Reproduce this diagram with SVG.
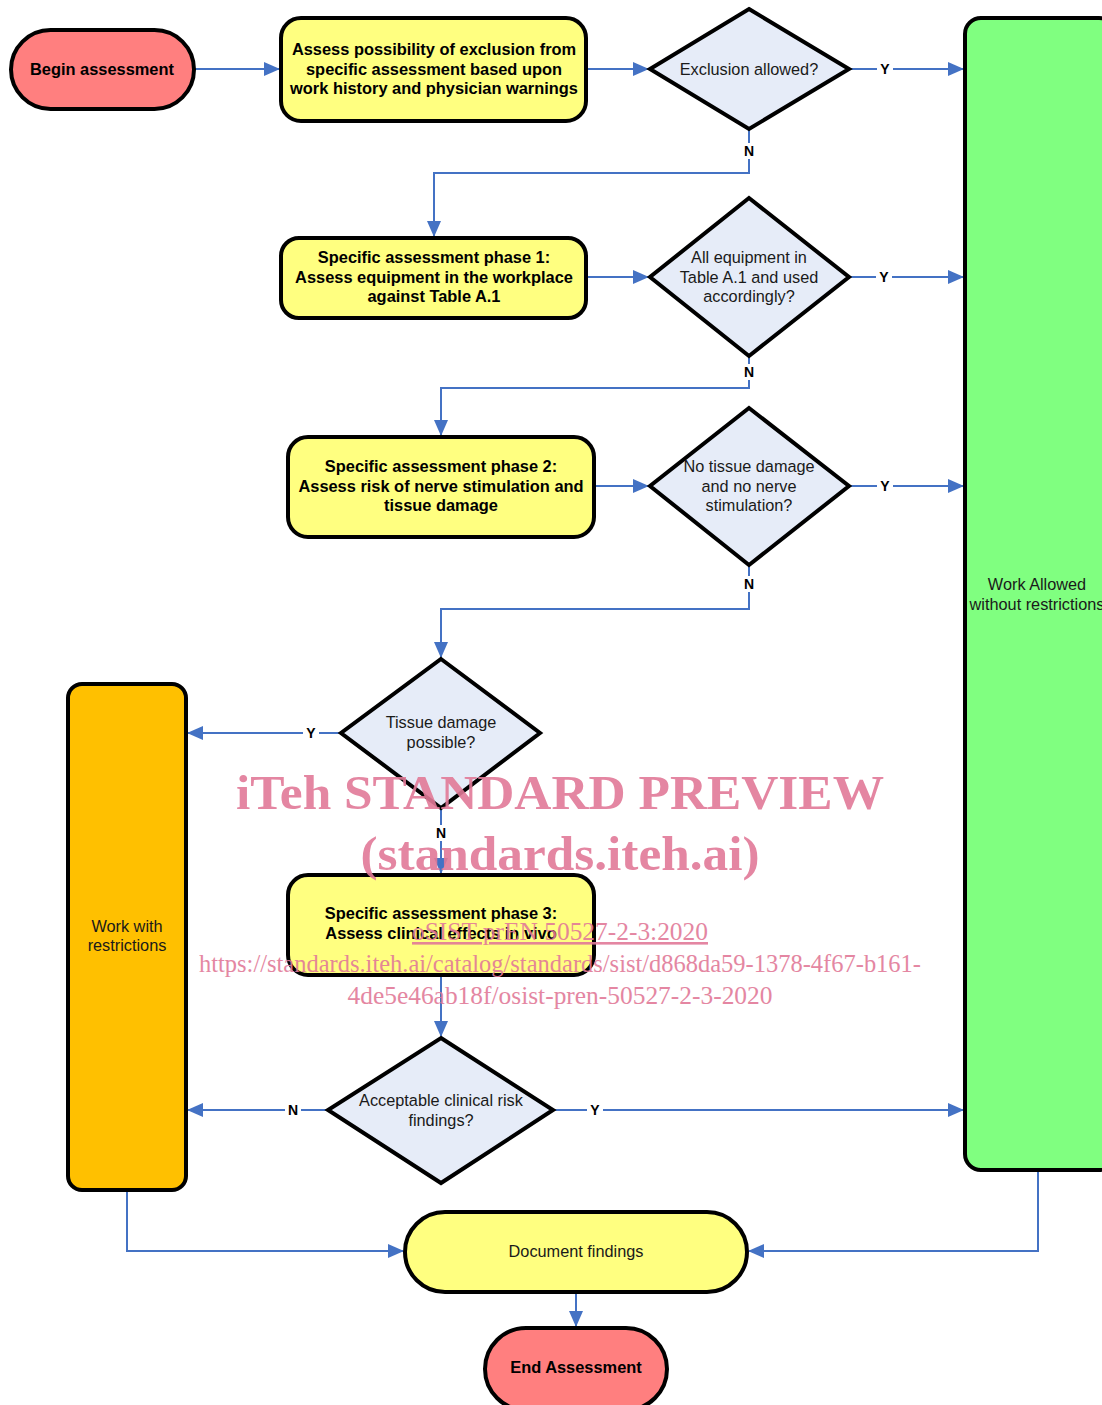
<svg xmlns="http://www.w3.org/2000/svg" width="1102" height="1405" viewBox="0 0 1102 1405">
<defs>
<marker id="arr" markerUnits="userSpaceOnUse" markerWidth="16" markerHeight="14" refX="15" refY="7" orient="auto">
<path d="M0,0 L16,7 L0,14 Z" fill="#4472C4"/>
</marker>
<style>
.term{fill:#FF7F7F;stroke:#000;stroke-width:4}
.proc{fill:#FFFF80;stroke:#000;stroke-width:4}
.dec{fill:#E6ECF8;stroke:#000;stroke-width:4}
.green{fill:#80FF80;stroke:#000;stroke-width:4}
.orange{fill:#FFC000;stroke:#000;stroke-width:4}
.b{font-family:"Liberation Sans",Arial,sans-serif;font-weight:bold;font-size:16.4px;fill:#000;text-anchor:middle}
.r{font-family:"Liberation Sans",Arial,sans-serif;font-size:16.3px;fill:#1a1a1a;text-anchor:middle}
.lbl{font-family:"Liberation Sans",Arial,sans-serif;font-weight:bold;font-size:14px;fill:#000;text-anchor:middle}
.con{fill:none;stroke:#4472C4;stroke-width:2}
.wm{font-family:"Liberation Serif","Times New Roman",serif;fill:#E27A98;text-anchor:middle;opacity:0.9}
</style>
</defs>
<rect width="1102" height="1405" fill="#fff"/>

<g id="connectors">
<path class="con" d="M194,69 L279,69" marker-end="url(#arr)"/>
<path class="con" d="M586,69 L648,69" marker-end="url(#arr)"/>
<path class="con" d="M849,69 L963,69" marker-end="url(#arr)"/>
<path class="con" d="M749,129 L749,173 L434,173 L434,236" marker-end="url(#arr)"/>
<path class="con" d="M586,277 L648,277" marker-end="url(#arr)"/>
<path class="con" d="M849,277 L963,277" marker-end="url(#arr)"/>
<path class="con" d="M749,356 L749,388 L441,388 L441,435" marker-end="url(#arr)"/>
<path class="con" d="M594,486 L648,486" marker-end="url(#arr)"/>
<path class="con" d="M849,486 L963,486" marker-end="url(#arr)"/>
<path class="con" d="M749,565 L749,609 L441,609 L441,657" marker-end="url(#arr)"/>
<path class="con" d="M341,733 L188,733" marker-end="url(#arr)"/>
<path class="con" d="M441,808 L441,873" marker-end="url(#arr)"/>
<path class="con" d="M441,975 L441,1036" marker-end="url(#arr)"/>
<path class="con" d="M328,1110 L188,1110" marker-end="url(#arr)"/>
<path class="con" d="M553,1110 L963,1110" marker-end="url(#arr)"/>
<path class="con" d="M127,1190 L127,1251 L403,1251" marker-end="url(#arr)"/>
<path class="con" d="M1038,1170 L1038,1251 L749,1251" marker-end="url(#arr)"/>
<path class="con" d="M576,1292 L576,1326" marker-end="url(#arr)"/>
<g>
<rect x="877" y="61" width="16" height="16" fill="#fff"/><text class="lbl" x="885" y="74">Y</text>
<rect x="741" y="143" width="16" height="16" fill="#fff"/><text class="lbl" x="749" y="156">N</text>
<rect x="876" y="269" width="16" height="16" fill="#fff"/><text class="lbl" x="884" y="282">Y</text>
<rect x="741" y="364" width="16" height="16" fill="#fff"/><text class="lbl" x="749" y="377">N</text>
<rect x="877" y="478" width="16" height="16" fill="#fff"/><text class="lbl" x="885" y="491">Y</text>
<rect x="741" y="576" width="16" height="16" fill="#fff"/><text class="lbl" x="749" y="589">N</text>
<rect x="303" y="725" width="16" height="16" fill="#fff"/><text class="lbl" x="311" y="738">Y</text>
<rect x="433" y="825" width="16" height="16" fill="#fff"/><text class="lbl" x="441" y="838">N</text>
<rect x="285" y="1102" width="16" height="16" fill="#fff"/><text class="lbl" x="293" y="1115">N</text>
<rect x="587" y="1102" width="16" height="16" fill="#fff"/><text class="lbl" x="595" y="1115">Y</text>
</g>
</g>

<g id="begin">
<rect class="term" x="11" y="30" width="183" height="79" rx="39.5"/>
<text class="b" x="102" y="75">Begin assessment</text>
</g>
<g id="assess-exclusion">
<rect class="proc" x="281" y="18" width="305" height="103" rx="20"/>
<text class="b" x="434" y="55">Assess possibility of exclusion from</text>
<text class="b" x="434" y="75">specific assessment based upon</text>
<text class="b" x="434" y="94">work history and physician warnings</text>
</g>
<g id="exclusion-allowed">
<polygon class="dec" points="749,9 849,69 749,129 650,69"/>
<text class="r" x="749" y="75">Exclusion allowed?</text>
</g>
<g id="phase1">
<rect class="proc" x="281" y="238" width="305" height="80" rx="18"/>
<text class="b" x="434" y="263">Specific assessment phase 1:</text>
<text class="b" x="434" y="283">Assess equipment in the workplace</text>
<text class="b" x="434" y="302">against Table A.1</text>
</g>
<g id="equipment-decision">
<polygon class="dec" points="749,198 849,277 749,356 650,277"/>
<text class="r" x="749" y="263">All equipment in</text>
<text class="r" x="749" y="283">Table A.1 and used</text>
<text class="r" x="749" y="302">accordingly?</text>
</g>
<g id="phase2">
<rect class="proc" x="288" y="437" width="306" height="100" rx="20"/>
<text class="b" x="441" y="472">Specific assessment phase 2:</text>
<text class="b" x="441" y="492">Assess risk of nerve stimulation and</text>
<text class="b" x="441" y="511">tissue damage</text>
</g>
<g id="no-damage-decision">
<polygon class="dec" points="749,408 849,486 749,565 650,486"/>
<text class="r" x="749" y="472">No tissue damage</text>
<text class="r" x="749" y="492">and no nerve</text>
<text class="r" x="749" y="511">stimulation?</text>
</g>
<g id="tissue-damage-decision">
<polygon class="dec" points="441,659 540,733 441,808 341,733"/>
<text class="r" x="441" y="728">Tissue damage</text>
<text class="r" x="441" y="748">possible?</text>
</g>
<g id="work-with-restrictions">
<rect class="orange" x="68" y="684" width="118" height="506" rx="14"/>
<text class="r" x="127" y="932">Work with</text>
<text class="r" x="127" y="951">restrictions</text>
</g>
<g id="phase3">
<rect class="proc" x="288" y="875" width="306" height="100" rx="20"/>
<text class="b" x="441" y="919">Specific assessment phase 3:</text>
<text class="b" x="441" y="939">Assess clinical effects in vivo</text>
</g>
<g id="clinical-decision">
<polygon class="dec" points="441,1038 553,1110 441,1183 328,1110"/>
<text class="r" x="441" y="1106">Acceptable clinical risk</text>
<text class="r" x="441" y="1126">findings?</text>
</g>
<g id="work-allowed">
<rect class="green" x="965" y="18" width="150" height="1152" rx="16"/>
<text class="r" x="1037" y="590">Work Allowed</text>
<text class="r" x="1037" y="610">without restrictions</text>
</g>
<g id="document-findings">
<rect class="proc" x="405" y="1212" width="342" height="80" rx="40"/>
<text class="r" x="576" y="1257">Document findings</text>
</g>
<g id="end">
<rect class="term" x="485" y="1328" width="182" height="82" rx="41"/>
<text class="b" x="576" y="1373">End Assessment</text>
</g>

<g id="watermark">
<text class="wm" x="560" y="809" font-size="48" font-weight="bold" textLength="648" lengthAdjust="spacingAndGlyphs">iTeh STANDARD PREVIEW</text>
<text class="wm" x="560" y="870" font-size="48" font-weight="bold" textLength="399" lengthAdjust="spacingAndGlyphs">(standards.iteh.ai)</text>
<text class="wm" x="560" y="940" font-size="26" text-decoration="underline" textLength="296" lengthAdjust="spacingAndGlyphs">oSIST prEN 50527-2-3:2020</text>
<text class="wm" x="560" y="972" font-size="26" textLength="722" lengthAdjust="spacingAndGlyphs">https://standards.iteh.ai/catalog/standards/sist/d868da59-1378-4f67-b161-</text>
<text class="wm" x="560" y="1004" font-size="26" textLength="425" lengthAdjust="spacingAndGlyphs">4de5e46ab18f/osist-pren-50527-2-3-2020</text>
</g>
</svg>
